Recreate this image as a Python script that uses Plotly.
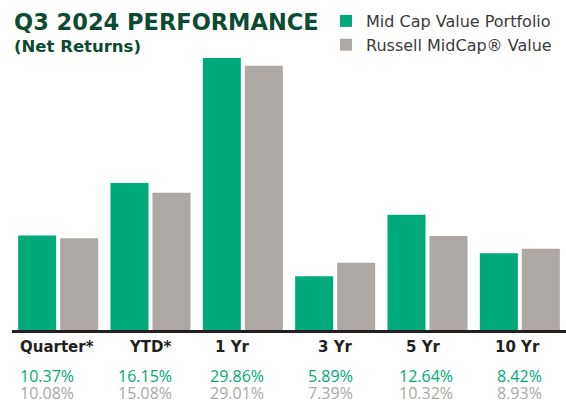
import plotly.graph_objects as go

categories = ["Quarter*", "YTD*", "1 Yr", "3 Yr", "5 Yr", "10 Yr"]
portfolio = [10.37, 16.15, 29.86, 5.89, 12.64, 8.42]
benchmark = [10.08, 15.08, 29.01, 7.39, 10.32, 8.93]
series_names = ["Mid Cap Value Portfolio", "Russell MidCap® Value"]

GREEN = "#00a97a"
GRAY = "#ada8a3"
GRAY_TXT = "#aba7a2"
DARK = "#231f20"
TITLE = "#0d4a32"

# per-category horizontal nudges (px) for the labels under the axis
cat_shift = [-1, 0, -10, 0, -4, -2]
val_shift = [-11, -6, -6, -5, -2, 0]

fig = go.Figure()
fig.add_trace(go.Bar(x=categories, y=portfolio, name=series_names[0],
                     marker=dict(color=GREEN, line=dict(width=0))))
fig.add_trace(go.Bar(x=categories, y=benchmark, name=series_names[1],
                     marker=dict(color=GRAY, line=dict(width=0))))

annotations = []
for i, c in enumerate(categories):
    annotations.append(dict(x=c, y=0, xref="x", yref="paper", text=f"<b>{c}</b>",
                            showarrow=False, yanchor="middle", yshift=-17,
                            xshift=cat_shift[i],
                            font=dict(family="DejaVu Sans", size=15, color=DARK)))
    annotations.append(dict(x=c, y=0, xref="x", yref="paper", text=f"{portfolio[i]:.2f}%",
                            showarrow=False, yanchor="middle", yshift=-46,
                            xshift=val_shift[i],
                            font=dict(family="Open Sans", size=16, color=GREEN)))
    annotations.append(dict(x=c, y=0, xref="x", yref="paper", text=f"{benchmark[i]:.2f}%",
                            showarrow=False, yanchor="middle", yshift=-63,
                            xshift=val_shift[i],
                            font=dict(family="Open Sans", size=16, color=GRAY_TXT)))

# title block
annotations.append(dict(x=0, y=1, xref="paper", yref="paper", text="<b>Q3 2024 PERFORMANCE</b>",
                        showarrow=False, xanchor="left", yanchor="middle",
                        xshift=0, yshift=58 - 22,
                        font=dict(family="DejaVu Sans", size=22.5, color=TITLE)))
annotations.append(dict(x=0, y=1, xref="paper", yref="paper", text="<b>(Net Returns)</b>",
                        showarrow=False, xanchor="left", yanchor="middle",
                        xshift=0, yshift=58 - 46,
                        font=dict(family="DejaVu Sans", size=16.5, color=TITLE)))

fig.update_layout(
    width=566, height=400,
    margin=dict(l=12, r=0, t=58, b=70, autoexpand=False),
    paper_bgcolor="white", plot_bgcolor="white",
    barmode="group", bargap=0.09, bargroupgap=0.095,
    showlegend=True,
    legend=dict(x=0.576, y=0.99, xref="container", yref="container",
                xanchor="left", yanchor="top",
                font=dict(family="DejaVu Sans", size=16, color="#3a3a3a"),
                bgcolor="rgba(0,0,0,0)", borderwidth=0, tracegroupgap=0),
    xaxis=dict(showticklabels=False, showgrid=False, zeroline=False,
               showline=True, linecolor=DARK, linewidth=3, ticks=""),
    yaxis=dict(range=[0, 29.86], showticklabels=False, showgrid=False,
               zeroline=False, showline=False, ticks=""),
    annotations=annotations,
)

fig.write_html("out.html")
